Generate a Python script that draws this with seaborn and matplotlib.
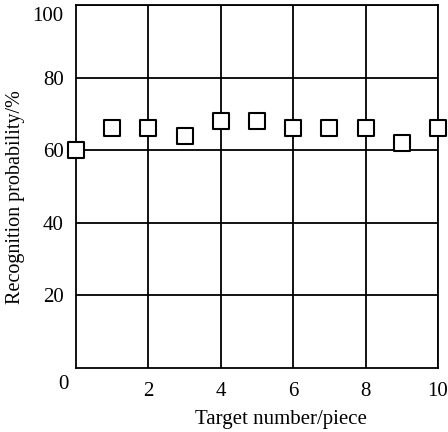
import matplotlib
matplotlib.use("Agg")
import matplotlib.pyplot as plt
import matplotlib.transforms as mtransforms
import seaborn as sns
import pandas as pd

target_number = [0, 1, 2, 3, 4, 5, 6, 7, 8, 9, 10]
recognition_prob = [60, 66, 66, 64, 68, 68, 66, 66, 66, 62, 66]
x_ticks = [2, 4, 6, 8, 10]
y_ticks = [20, 40, 60, 80, 100]

sns.set_theme(style="white")
plt.rcParams['font.family'] = ['Liberation Serif', 'DejaVu Serif']

df = pd.DataFrame({"x": target_number, "y": recognition_prob})

fig = plt.figure(figsize=(4.48, 4.32), dpi=100)
ax = fig.add_axes([76/448, 64/432, 362/448, 363/432])

sns.scatterplot(data=df, x="x", y="y", marker="s", s=125, facecolor="white",
                edgecolor="black", linewidth=1.5, ax=ax, zorder=5, clip_on=False)

fs = 15
ax.set_xlim(0, 10)
ax.set_ylim(0, 100)
ax.set_xticks(x_ticks)
ax.set_yticks(y_ticks)
ax.set_xticklabels([str(v) for v in x_ticks], fontsize=fs)
ax.set_yticklabels([str(v) for v in y_ticks], fontsize=fs)
ax.tick_params(axis="x", length=0, pad=10, colors="black")
ax.tick_params(axis="y", length=0, pad=9, colors="black")
# shift top label down slightly as in the reference
lbl = ax.get_yticklabels()[-1]
lbl.set_transform(lbl.get_transform() + mtransforms.ScaledTranslation(0, -9/100, fig.dpi_scale_trans))
ax.grid(True, color="black", linewidth=1.3)
ax.set_axisbelow(True)
for s in ax.spines.values():
    s.set_color("black")
    s.set_linewidth(1.3)
    s.set_visible(True)

ax.text(-0.2, -1.8, "0", fontsize=fs, ha="right", va="top", color="black")
ax.set_xlabel("Target number/piece", fontsize=fs, color="black")
ax.xaxis.label.set_va("center")
ax.xaxis.set_label_coords(0.566, -0.142)
ax.set_ylabel("Recognition probability/%", fontsize=14.5, color="black")
ax.yaxis.label.set_va("center")
ax.yaxis.set_label_coords(-0.166, 0.47)

fig.savefig("out.png", dpi=100)
